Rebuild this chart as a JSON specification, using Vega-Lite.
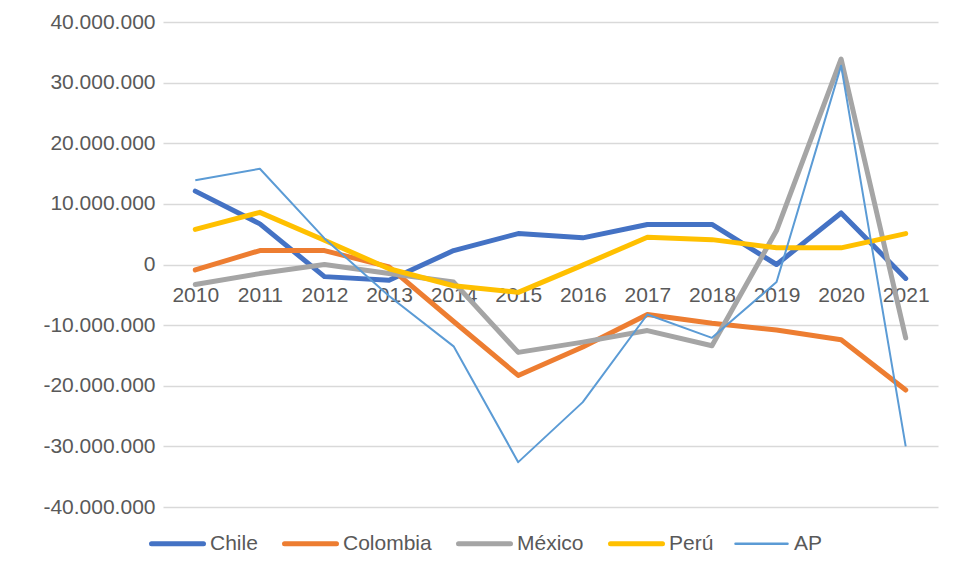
{
  "$schema": "https://vega.github.io/schema/vega-lite/v6.json",
  "autosize": {"type": "none"},
  "width": 775,
  "height": 485,
  "padding": {"left": 163, "top": 22, "right": 18, "bottom": 74},
  "background": "white",
  "config": {
    "font": "Liberation Sans",
    "view": {"stroke": null},
    "axis": {"labelFont": "Liberation Sans", "labelFontSize": 21, "labelColor": "#595959", "domain": false, "ticks": false, "tickSize": 0, "title": null}
  },
  "data": {"values": [
    {"year": "2010", "s": "Chile", "v": 12100000},
    {"year": "2011", "s": "Chile", "v": 6700000},
    {"year": "2012", "s": "Chile", "v": -2000000},
    {"year": "2013", "s": "Chile", "v": -2600000},
    {"year": "2014", "s": "Chile", "v": 2300000},
    {"year": "2015", "s": "Chile", "v": 5100000},
    {"year": "2016", "s": "Chile", "v": 4400000},
    {"year": "2017", "s": "Chile", "v": 6600000},
    {"year": "2018", "s": "Chile", "v": 6600000},
    {"year": "2019", "s": "Chile", "v": 0},
    {"year": "2020", "s": "Chile", "v": 8500000},
    {"year": "2021", "s": "Chile", "v": -2300000},
    {"year": "2010", "s": "Colombia", "v": -900000},
    {"year": "2011", "s": "Colombia", "v": 2300000},
    {"year": "2012", "s": "Colombia", "v": 2300000},
    {"year": "2013", "s": "Colombia", "v": -400000},
    {"year": "2014", "s": "Colombia", "v": -9400000},
    {"year": "2015", "s": "Colombia", "v": -18300000},
    {"year": "2016", "s": "Colombia", "v": -13600000},
    {"year": "2017", "s": "Colombia", "v": -8250000},
    {"year": "2018", "s": "Colombia", "v": -9700000},
    {"year": "2019", "s": "Colombia", "v": -10800000},
    {"year": "2020", "s": "Colombia", "v": -12400000},
    {"year": "2021", "s": "Colombia", "v": -20700000},
    {"year": "2010", "s": "México", "v": -3300000},
    {"year": "2011", "s": "México", "v": -1500000},
    {"year": "2012", "s": "México", "v": 0},
    {"year": "2013", "s": "México", "v": -1500000},
    {"year": "2014", "s": "México", "v": -2900000},
    {"year": "2015", "s": "México", "v": -14500000},
    {"year": "2016", "s": "México", "v": -12800000},
    {"year": "2017", "s": "México", "v": -10900000},
    {"year": "2018", "s": "México", "v": -13400000},
    {"year": "2019", "s": "México", "v": 5600000},
    {"year": "2020", "s": "México", "v": 33900000},
    {"year": "2021", "s": "México", "v": -12100000},
    {"year": "2010", "s": "Perú", "v": 5800000},
    {"year": "2011", "s": "Perú", "v": 8600000},
    {"year": "2012", "s": "Perú", "v": 4000000},
    {"year": "2013", "s": "Perú", "v": -700000},
    {"year": "2014", "s": "Perú", "v": -3500000},
    {"year": "2015", "s": "Perú", "v": -4600000},
    {"year": "2016", "s": "Perú", "v": -100000},
    {"year": "2017", "s": "Perú", "v": 4500000},
    {"year": "2018", "s": "Perú", "v": 4100000},
    {"year": "2019", "s": "Perú", "v": 2750000},
    {"year": "2020", "s": "Perú", "v": 2750000},
    {"year": "2021", "s": "Perú", "v": 5100000},
    {"year": "2010", "s": "AP", "v": 13900000},
    {"year": "2011", "s": "AP", "v": 15800000},
    {"year": "2012", "s": "AP", "v": 4300000},
    {"year": "2013", "s": "AP", "v": -5200000},
    {"year": "2014", "s": "AP", "v": -13500000},
    {"year": "2015", "s": "AP", "v": -32600000},
    {"year": "2016", "s": "AP", "v": -22700000},
    {"year": "2017", "s": "AP", "v": -8250000},
    {"year": "2018", "s": "AP", "v": -12100000},
    {"year": "2019", "s": "AP", "v": -2900000},
    {"year": "2020", "s": "AP", "v": 32800000},
    {"year": "2021", "s": "AP", "v": -30000000}
  ]},
  "encoding": {
    "x": {"field": "year", "type": "ordinal", "scale": {"type": "point", "padding": 0.5},
      "axis": {"orient": "bottom", "offset": -242.5, "labelAngle": 0, "labelPadding": 20, "grid": false}},
    "y": {"field": "v", "type": "quantitative",
      "scale": {"domain": [-40000000, 40000000], "nice": false},
      "axis": {"values": [-40000000, -30000000, -20000000, -10000000, 0, 10000000, 20000000, 30000000, 40000000],
        "labelExpr": "replace(replace(format(datum.value, ','), /,/g, '.'), '\u2212', '-')",
        "labelPadding": 8, "grid": true, "gridColor": "#d9d9d9", "gridWidth": 1.3}},
    "color": {"field": "s", "type": "nominal",
      "scale": {"domain": ["Chile", "Colombia", "México", "Perú", "AP"], "range": ["#4472C4", "#ED7D31", "#A5A5A5", "#FFC000", "#5B9BD5"]},
      "legend": {"orient": "none", "legendX": 4, "legendY": 511, "direction": "horizontal", "title": null,
        "symbolType": "stroke", "symbolSize": 2704, "symbolStrokeWidth": 5,
        "labelFont": "Liberation Sans", "labelFontSize": 21, "labelColor": "#595959", "labelOffset": 22, "columnPadding": 16,
        "encode": {"symbols": {"update": {"strokeWidth": {"signal": "datum.value === 'AP' ? 2.5 : 5"}, "strokeCap": {"value": "round"}}}}}}
  },
  "layer": [
    {"transform": [{"filter": "datum.s !== 'AP'"}],
     "mark": {"type": "line", "strokeWidth": 5, "strokeJoin": "round", "strokeCap": "round"}},
    {"transform": [{"filter": "datum.s === 'AP'"}],
     "mark": {"type": "line", "strokeWidth": 2, "strokeJoin": "round"}}
  ]
}
